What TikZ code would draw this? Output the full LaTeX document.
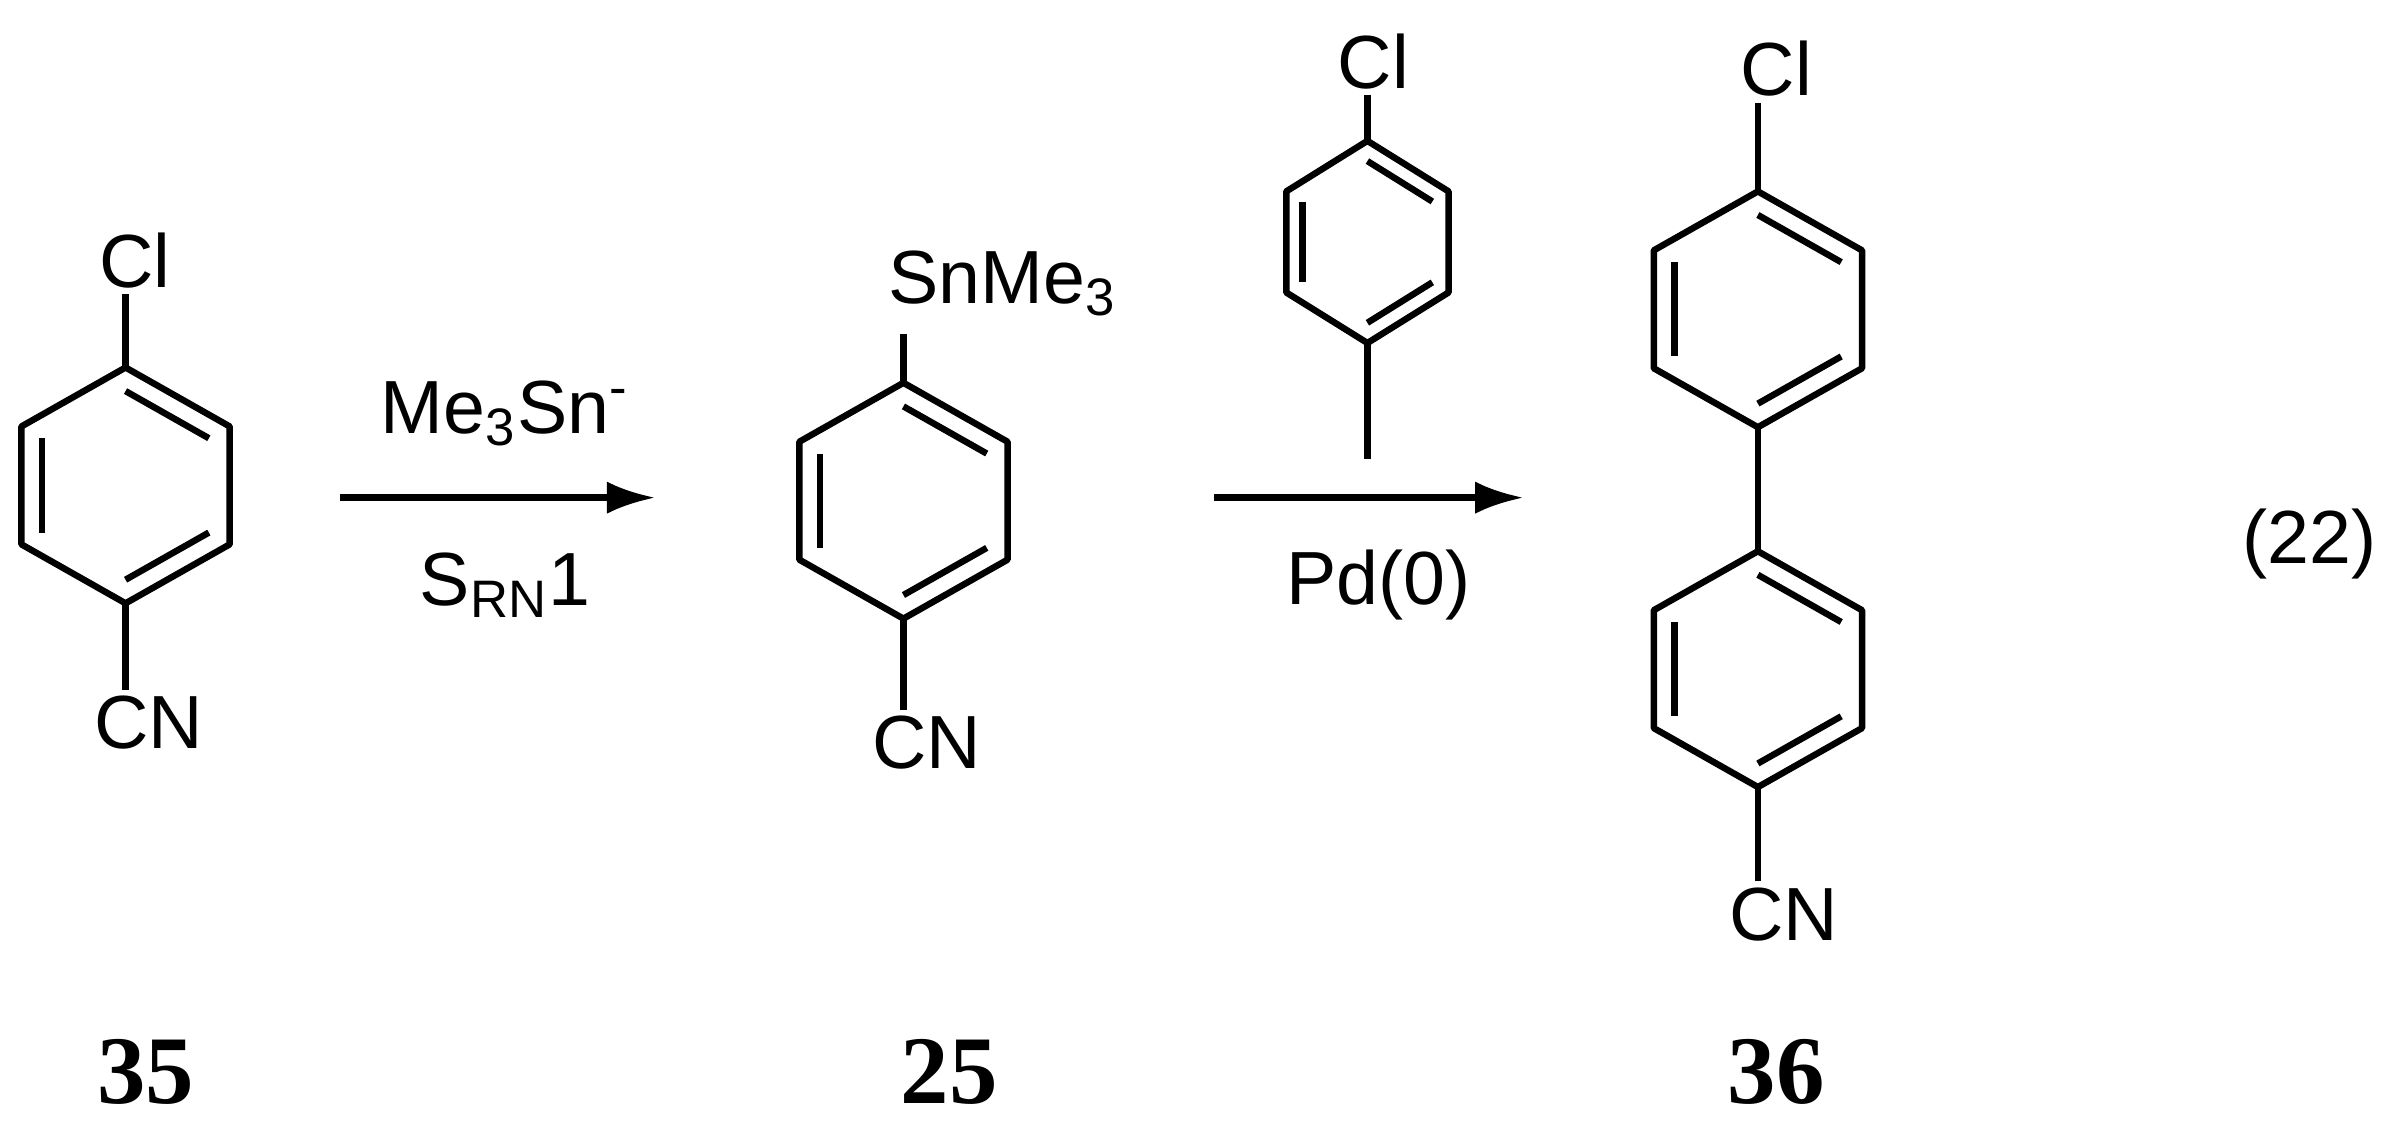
\documentclass[tikz,border=0pt]{standalone}
\usepackage{fontspec}
\setmainfont{Liberation Sans}
\newfontfamily\numfont{Liberation Serif}
\usetikzlibrary{calc}
\tikzset{
  bond/.style={line width=1.2pt},
  lab/.style={inner sep=1pt,font=\fontsize{14}{16}\selectfont},
  num/.style={inner sep=0pt,font=\numfont\bfseries\fontsize{18}{20}\selectfont},
  rxn/.style={line width=1.2pt,-{Latex[length=9pt,width=6pt]}}
}
\usetikzlibrary{arrows.meta}
\newcommand{\benz}[5]{% name, cx, cy, rx, ry (y downwards in px)
  \coordinate (#1c) at (#2/100,-#3/100);
  \coordinate (#1t) at (#2/100,-#3/100+#5/100);
  \coordinate (#1ur) at (#2/100+#4/100,-#3/100+#5/200);
  \coordinate (#1lr) at (#2/100+#4/100,-#3/100-#5/200);
  \coordinate (#1b) at (#2/100,-#3/100-#5/100);
  \coordinate (#1ll) at (#2/100-#4/100,-#3/100-#5/200);
  \coordinate (#1ul) at (#2/100-#4/100,-#3/100+#5/200);
  \draw[bond,line join=round] (#1t)--(#1ur)--(#1lr)--(#1b)--(#1ll)--(#1ul)--cycle;
  \draw[bond] ($(#1ul)!0.2!(#1c)$)--($(#1ll)!0.2!(#1c)$);
  \draw[bond] ($(#1t)!0.2!(#1c)$)--($(#1ur)!0.2!(#1c)$);
  \draw[bond] ($(#1lr)!0.2!(#1c)$)--($(#1b)!0.2!(#1c)$);
}
\begin{document}
\begin{tikzpicture}
\useasboundingbox (0,0) rectangle (15.68,-7.36);
% 35
\benz{a}{82}{317}{68}{77}
\node[lab] (aCl) at (0.88,-1.70) {Cl};
\node[lab] (aCN) at (0.97,-4.72) {CN};
\draw[bond] (at)--(aCl.south -| at);
\draw[bond] (ab)--(aCN.north -| ab);
\node[num] (n35) at (0.95,-7.00) {35};
% arrow 1
\coordinate (r1s) at (2.22,-3.25);
\coordinate (r1e) at (4.28,-3.25);
\draw[rxn] (r1s)--(r1e);
\node[lab] (me3sn) at (3.30,-2.70) {Me\textsubscript{3}Sn\textsuperscript{-}};
\node[lab] (srn) at (3.30,-3.82) {S\textsubscript{RN}1};
% 25
\benz{b}{590}{327}{68}{77}
\node[lab,anchor=west] (bSn) at (5.76,-1.85) {SnMe\textsubscript{3}};
\node[lab] (bCN) at (6.05,-4.85) {CN};
\draw[bond] (bt)--(5.90,-2.18);
\draw[bond] (bb)--(bCN.north -| bb);
\node[num] (n25) at (6.20,-7.00) {25};
% arrow 2
\coordinate (r2s) at (7.93,-3.25);
\coordinate (r2e) at (9.95,-3.25);
\draw[rxn] (r2s)--(r2e);
\benz{c}{893}{158}{53}{66}
\node[lab] (cCl) at (8.97,-0.40) {Cl};
\draw[bond] (ct)--(cCl.south -| ct);
\draw[bond] (cb)--(8.93,-3.00);
\node[lab] (pd) at (9.00,-3.82) {Pd(0)};
% 36
\benz{d}{1148}{202}{68}{77}
\benz{e}{1148}{437}{68}{77}
\node[lab] (dCl) at (1.160*10,-0.45) {Cl};
\draw[bond] (dt)--(dCl.south -| dt);
\draw[bond] (db)--(et);
\node[lab] (eCN) at (11.65,-5.97) {CN};
\draw[bond] (eb)--(eCN.north -| eb);
\node[num] (n36) at (11.60,-7.00) {36};
\node[lab] (eq) at (15.08,-3.55) {(22)};
\end{tikzpicture}
\end{document}
